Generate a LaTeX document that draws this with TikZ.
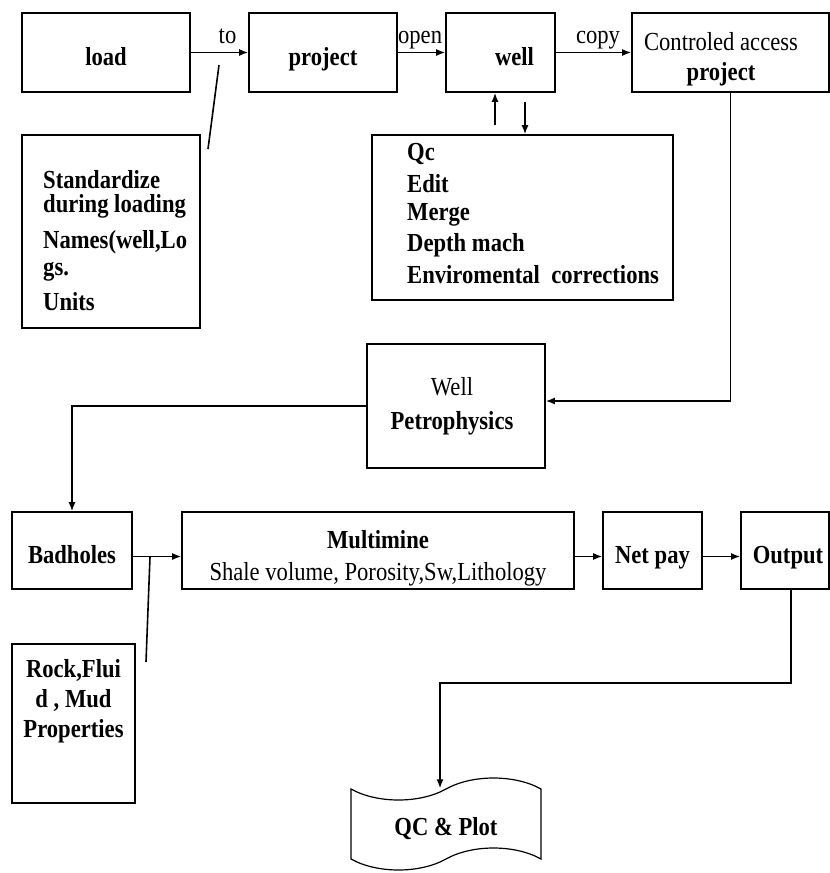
\documentclass[tikz,border=0pt]{standalone}
\usepackage{fontspec}
\setmainfont{Liberation Serif}[FakeStretch=0.87]
\usetikzlibrary{arrows.meta, positioning, shapes.symbols}

\begin{document}
\begin{tikzpicture}[
  x=1pt, y=-1pt,
  font=\fontsize{26}{30}\selectfont,
  box/.style={draw, rectangle, line width=1.6pt, inner sep=0pt, font=\fontsize{26}{30}\selectfont\bfseries},
  one/.style={text height=25pt, text depth=0pt},
  txt/.style={inner sep=0pt, align=left, anchor=north west, font=\fontsize{26}{30}\selectfont\bfseries},
  lbl/.style={inner sep=0pt, anchor=base, yshift=9pt},
  arrow/.style={-{Latex[length=9pt,width=7pt]}, line width=1.6pt},
  line/.style={line width=1.6pt}
]
  \path[use as bounding box, fill=white] (0,0) rectangle (830,873);

  \node[box, one, minimum width=168pt, minimum height=79pt] (ld) at (106,52.5) {load};
  \node[box, one, minimum width=148pt, minimum height=79pt] (prj) at (323,52.5) {project};
  \node[box, one, minimum width=109pt, minimum height=79pt] (wl) at (500.5,52.5) {\hspace*{28pt}well};
  \node[box, minimum width=197pt, minimum height=79pt, align=center] (ctrl) at (730.5,52.5) {{\mdseries\rule{0pt}{31pt}Controled access\hspace*{19pt}}\\project\hspace*{19pt}};

  \node[box, minimum width=178pt, minimum height=193pt] (std) at (111,231.5) {};
  \node[txt] (std-txt) at (43,170) {Standardize\\[-6pt]during loading\\[6pt]Names(well,Lo\\[-3pt]gs.\\[5pt]Units};

  \node[box, minimum width=301pt, minimum height=165pt] (qc) at (522.5,217.5) {};
  \node[txt] (qc-txt) at (407,143) {Qc\\[2pt]Edit\\[-2pt]Merge\\[1pt]Depth mach\\[2pt]Enviromental\ \ corrections};

  \node[box, minimum width=178pt, minimum height=124pt, align=center] (wp) at (456,406) {{\mdseries Well\hspace*{8pt}}\\[4pt]Petrophysics\hspace*{8pt}};

  \node[box, one, minimum width=120pt, minimum height=77pt] (bad) at (72,550.5) {Badholes};
  \node[box, minimum width=392pt, minimum height=77pt, align=center] (multi) at (378,550.5) {\rule{0pt}{33pt}Multimine\\[2pt]{\mdseries Shale volume, Porosity,Sw,Lithology}};
  \node[box, one, minimum width=99pt, minimum height=77pt] (net) at (652.5,550.5) {Net pay};
  \node[box, one, minimum width=88pt, minimum height=77pt] (out) at (785,550.5) {\hspace*{6pt}Output};

  \node[box, minimum width=123pt, minimum height=159pt] (rock) at (73.5,723.5) {};
  \node[txt, anchor=north, align=center] (rock-txt) at (73.5,659) {Rock,Flui\\d , Mud\\Properties};

  \node[box, tape, line width=1.2pt, minimum width=190pt, minimum height=92pt, tape bend height=22pt, text height=22pt, text depth=0pt] (qcp) at (446,824) {QC \& Plot};

  \draw[arrow] (ld) -- node[lbl, pos=0.64] (to-lbl) {to} (prj);
  \draw[arrow] (prj) -- node[lbl, pos=0.47] (open-lbl) {open} (wl);
  \draw[arrow] (wl) -- node[lbl, pos=0.56] (copy-lbl) {copy} (ctrl);

  \coordinate (std-top) at (219,65);
  \coordinate (std-end) at (208,149);
  \draw[line] (std-top) -- (std-end);

  \coordinate (up-a) at (495,125);
  \coordinate (dn-a) at (525,102);
  \draw[arrow] (up-a) -- (up-a |- wl.south);
  \draw[arrow] (dn-a) -- (dn-a |- qc.north);

  \draw[arrow] (ctrl.south) |- ([yshift=5pt]wp.east);
  \draw[arrow] (wp.west) -| (bad.north);

  \draw[arrow] ([yshift=-6pt]bad.east) -- ([yshift=-6pt]multi.west);
  \draw[arrow] ([yshift=-6pt]multi.east) -- ([yshift=-6pt]net.west);
  \draw[arrow] ([yshift=-6pt]net.east) -- ([yshift=-6pt]out.west);

  \coordinate (rk-a) at (150,557);
  \coordinate (rk-b) at (146,662);
  \draw[line] (rk-a) -- (rk-b);

  \draw[arrow] ([xshift=6pt]out.south) -- ++(0,93) -| ([xshift=-6pt]qcp.north);
\end{tikzpicture}
\end{document}
